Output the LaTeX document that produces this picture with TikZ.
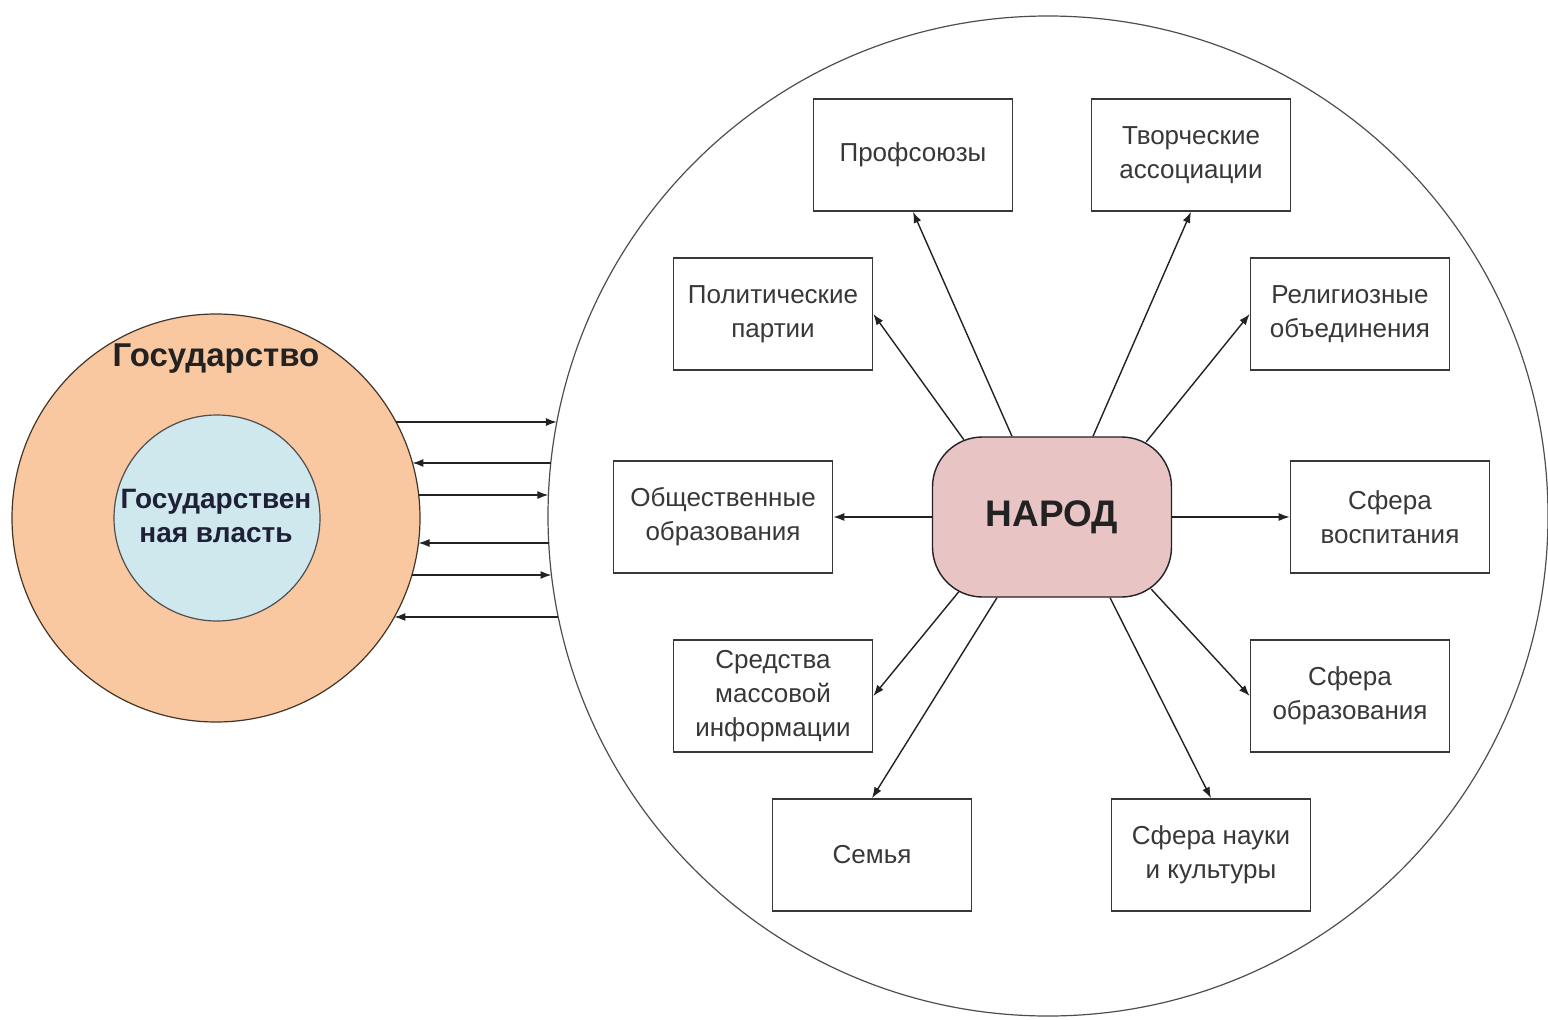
\documentclass[tikz,border=0pt]{standalone}
\usepackage{fontspec}
\setmainfont{Liberation Sans}
\usetikzlibrary{arrows.meta,calc}
\definecolor{orangefill}{RGB}{250,200,160}
\definecolor{bluefill}{RGB}{206,232,238}
\definecolor{pinkfill}{RGB}{233,196,196}
\definecolor{ink}{RGB}{34,34,34}
\tikzset{
  box/.style={draw=ink!90, line width=1.6pt, minimum width=199pt, minimum height=112pt,
    inner sep=0pt, align=center, font=\fontsize{26pt}{34pt}\selectfont, text=ink!90},
  arr/.style={draw=ink, line width=1.4pt, -{Latex[length=11pt,width=8pt]}},
}
\begin{document}
\begin{tikzpicture}[x=1pt,y=-1pt]
\useasboundingbox[fill=white] (0,0) rectangle (1548,1020);
% left circles
\node[circle, draw=ink!80!brown, line width=1.2pt, fill=orangefill, minimum size=408pt, inner sep=0pt] (state) at (216,518) {};
\node[circle, draw=ink!80, line width=1.2pt, fill=bluefill, minimum size=206pt, inner sep=0pt] (power) at (217,518) {};
\node[font=\bfseries\fontsize{33pt}{40pt}\selectfont, text=ink] (statelbl) at (216,359) {Государство};
\node[font=\bfseries\fontsize{28pt}{34pt}\selectfont, text=ink!90!blue, align=center] (powerlbl) at (216,516) {Государствен\\ная власть};
% big circle
\node[circle, draw=ink!80, line width=1.2pt, minimum size=1000pt, inner sep=0pt] (society) at (1048,516) {};
% arrows between state and society (end points on the two circles)
\draw[arr] ($(state.center)+(180,-96)$) -- ($(society.center)+(-491.1,-94)$);
\draw[arr] ($(society.center)+(-497.2,-53)$) -- ($(state.center)+(196.4,-55)$);
\draw[arr] ($(state.center)+(202.7,-23)$) -- ($(society.center)+(-499.6,-21)$);
\draw[arr] ($(society.center)+(-499.3,27)$) -- ($(state.center)+(202.5,25)$);
\draw[arr] ($(state.center)+(195.9,57)$) -- ($(society.center)+(-496.5,59)$);
\draw[arr] ($(society.center)+(-489.7,101)$) -- ($(state.center)+(178.4,99)$);
% people
\node[draw=ink, line width=1.4pt, fill=pinkfill, rounded corners=50pt, minimum width=239pt, minimum height=160pt,
  font=\bfseries\fontsize{37pt}{44pt}\selectfont, text=ink] (narod) at (1052,517) {НАРОД};
% boxes
\node[box] (prof) at (913,155) {Профсоюзы};
\node[box] (tvor) at (1191,155) {Творческие\\ассоциации};
\node[box] (polit) at (773,314) {Политические\\партии};
\node[box] (relig) at (1350,314) {Религиозные\\объединения};
\node[box, minimum width=219pt] (obsch) at (723,517) {Общественные\\образования};
\node[box] (vosp) at (1390,517) {Сфера\\воспитания};
\node[box] (smi) at (773,696) {Средства\\массовой\\информации};
\node[box] (obraz) at (1350,696) {Сфера\\образования};
\node[box] (semya) at (872,855) {Семья};
\node[box] (nauka) at (1211,855) {Сфера науки\\и культуры};
% arrows from people
\draw[arr] ($(narod.north)+(-40,0)$) -- (prof.south);
\draw[arr] ($(narod.north)+(41,0)$) -- (tvor.south);
\draw[arr] ($(narod.north west)+(32,3.4)$) -- (polit.east);
\draw[arr] ($(narod.north east)+(-26,5.6)$) -- (relig.west);
\draw[arr] (narod.west) -- (obsch.east);
\draw[arr] (narod.east) -- (vosp.west);
\draw[arr] ($(narod.south west)+(27,-6)$) -- (smi.east);
\draw[arr] ($(narod.south east)+(-21,-8.6)$) -- (obraz.west);
\draw[arr] ($(narod.south)+(-55,0)$) -- (semya.north);
\draw[arr] ($(narod.south)+(58,0)$) -- (nauka.north);
\end{tikzpicture}
\end{document}
